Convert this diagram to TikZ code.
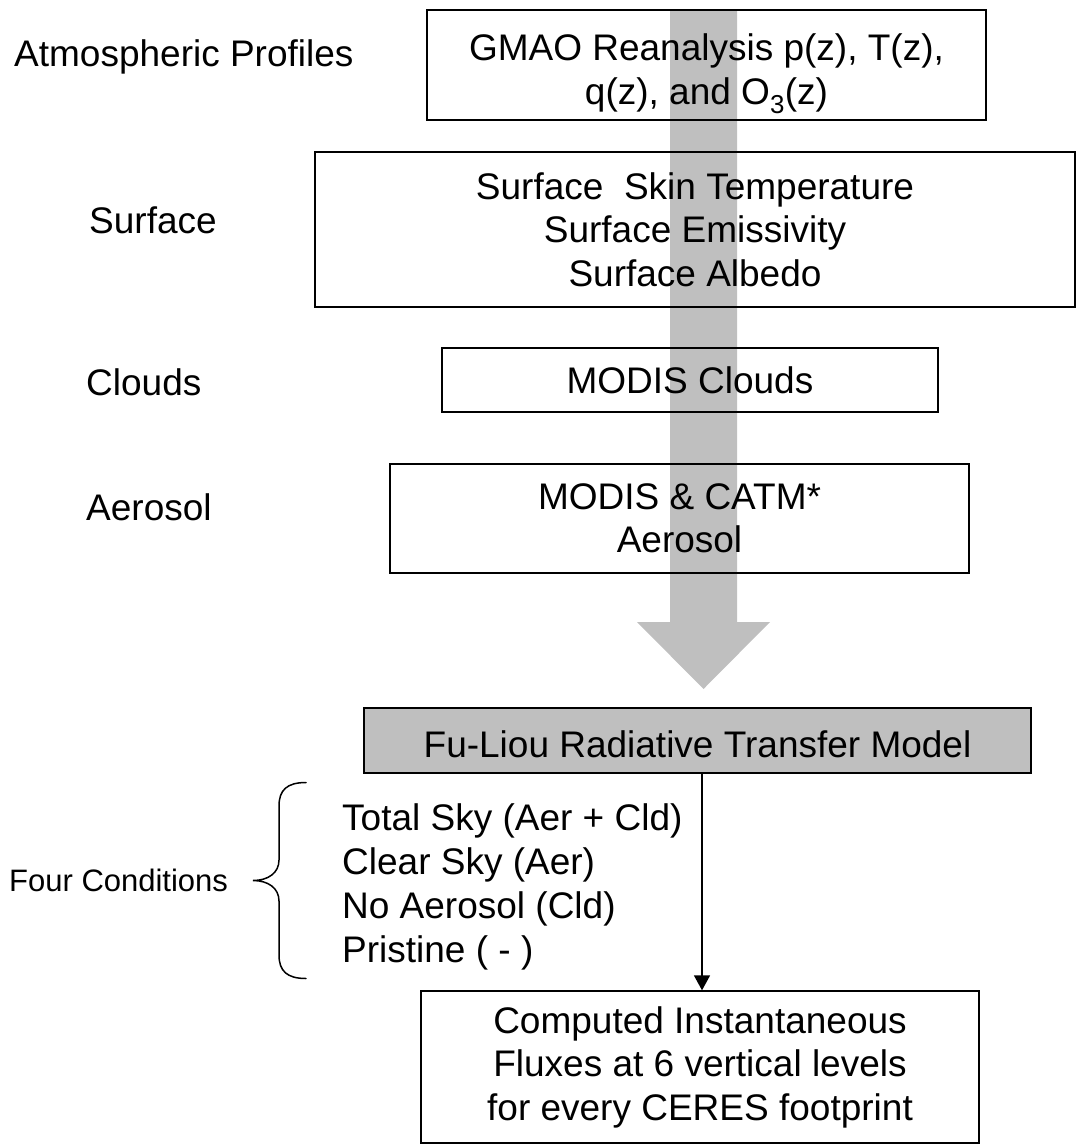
\documentclass[tikz,border=0pt]{standalone}
\usepackage{fontspec}
\setmainfont{Liberation Sans}
\usetikzlibrary{arrows.meta}
\definecolor{arrowgray}{RGB}{191,191,191}
\newcommand\bigtxt{\fontsize{37}{43.5}\selectfont}
\newcommand\midtxt{\fontsize{31}{37}\selectfont}
\tikzset{
  flowbox/.style={draw=black, line width=1.4pt, inner sep=0pt, align=center, font=\bigtxt},
  sidelabel/.style={anchor=west, inner sep=0pt, font=\bigtxt},
  thinarrow/.style={line width=1.6pt, -{Triangle[width=16pt,length=15pt]}},
  bracestyle/.style={line width=1.5pt, line cap=round}
}
\begin{document}
\begin{tikzpicture}[x=1pt,y=-1pt]
\useasboundingbox (0,0) rectangle (1077,1145);
% big gray arrow (behind boxes)
\fill[arrowgray] (670,10) -- (737,10) -- (737,622) -- (770,622) -- (703.5,689) -- (637,622) -- (670,622) -- cycle;
% boxes
\node[flowbox, minimum width=559pt, minimum height=110pt] (gmao) at (706.5,65)
  {\rule{0pt}{45pt}GMAO Reanalysis p(z), T(z),\\ q(z), and O\textsubscript{3}(z)};
\node[flowbox, minimum width=760pt, minimum height=155pt] (surface) at (695,229.5)
  {Surface\ \ Skin Temperature\\ Surface Emissivity\\ Surface Albedo};
\node[flowbox, minimum width=496pt, minimum height=64pt] (clouds) at (690,380)
  {MODIS Clouds};
\node[flowbox, minimum width=579pt, minimum height=109pt] (aerosol) at (679.5,518.5)
  {MODIS \& CATM*\\ Aerosol};
\node[flowbox, fill=arrowgray, minimum width=667pt, minimum height=65pt] (fuliou) at (697.5,740.5)
  {\rule{0pt}{35pt}Fu-Liou Radiative Transfer Model};
\node[flowbox, minimum width=558pt, minimum height=152pt] (final) at (700,1067)
  {Computed Instantaneous\\ Fluxes at 6 vertical levels\\ for every CERES footprint};
% side labels
\node[sidelabel] (latm) at (14,57) {Atmospheric Profiles};
\node[sidelabel] (lsurf) at (89,220) {Surface};
\node[sidelabel] (lcld) at (86,382) {Clouds};
\node[sidelabel] (laer) at (86,507) {Aerosol};
\node[anchor=west, inner sep=0pt, font=\midtxt] (lfour) at (9,880) {Four Conditions};
\node[anchor=west, inner sep=0pt, align=left, font=\fontsize{37}{44}\selectfont] (conds) at (342,887)
  {Total Sky (Aer + Cld)\\ Clear Sky (Aer)\\ No Aerosol (Cld)\\ Pristine ( - )};
% brace
\draw[bracestyle] (306,782.5) .. controls (287,782.5) and (279,790) .. (279,806)
  -- (279,860) .. controls (279,873) and (268,880.5) .. (253,880.5)
  .. controls (268,880.5) and (279,888) .. (279,901)
  -- (279,955) .. controls (279,971) and (287,978.5) .. (306,978.5);
% arrow from model to output
\coordinate (ax) at (702,0);
\draw[thinarrow] (fuliou.south -| ax) -- (final.north -| ax);
\end{tikzpicture}
\end{document}
